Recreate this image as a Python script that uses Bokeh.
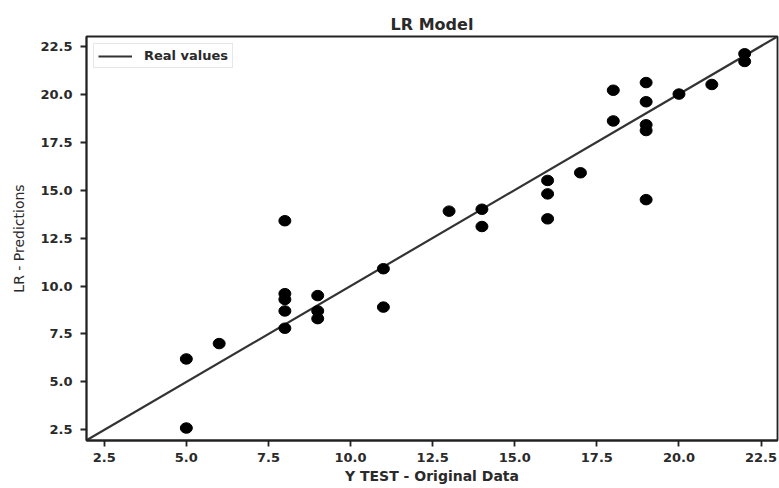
from bokeh.plotting import figure
from bokeh.embed import file_html
from bokeh.resources import INLINE
from bokeh.models import ColumnDataSource, SingleIntervalTicker, NumeralTickFormatter, Range1d, Legend, LegendItem

y_test = [5, 5, 6, 8, 8, 8, 8, 8, 9, 9, 9, 11, 11, 13, 14, 14, 16, 16, 16, 17,
          18, 18, 19, 19, 19, 19, 19, 20, 21, 22, 22]
y_pred = [6.2, 2.6, 7.0, 13.4, 9.6, 9.3, 8.7, 7.8, 9.5, 8.7, 8.3, 10.9, 8.9, 13.9, 14.0, 13.1,
          15.5, 14.8, 13.5, 15.9, 20.2, 18.6, 20.6, 19.6, 18.4, 18.1, 14.5, 20.0, 20.5, 22.1, 21.7]
ref_line = [1.96, 23.0]

p = figure(width=779, height=488, output_backend="svg", toolbar_location=None,
           title="LR Model", x_range=Range1d(1.96, 23.0), y_range=Range1d(1.95, 23.0),
           min_border_left=86, min_border_right=2, min_border_top=36, min_border_bottom=48)

p.title.align = "center"
p.title.text_font = "DejaVu Sans"
p.title.text_font_size = "16px"
p.title.text_font_style = "bold"
p.title.text_color = "#2a2a2a"
p.title.standoff = 6

p.xgrid.visible = False
p.ygrid.visible = False
p.outline_line_color = "#222222"
p.outline_line_width = 1.8

for ax in (p.xaxis[0], p.yaxis[0]):
    ax.ticker = SingleIntervalTicker(interval=2.5)
    ax.formatter = NumeralTickFormatter(format="0.0")
    ax.minor_tick_line_color = None
    ax.major_tick_out = 6
    ax.major_tick_in = 0
    ax.major_tick_line_width = 1.8
    ax.major_tick_line_color = "#222222"
    ax.axis_line_color = "#222222"
    ax.axis_line_width = 1.8
    ax.major_label_text_font = "DejaVu Sans"
    ax.major_label_text_font_size = "13px"
    ax.major_label_text_font_style = "bold"
    ax.major_label_text_color = "#2a2a2a"
    ax.axis_label_text_font = "DejaVu Sans"
    ax.axis_label_text_font_style = "bold"
    ax.axis_label_text_color = "#2a2a2a"

p.xaxis.axis_label = "Y TEST - Original Data"
p.yaxis.axis_label = "LR - Predictions"
p.xaxis.axis_label_text_font_size = "14px"
p.yaxis.axis_label_text_font_size = "14px"
p.yaxis.axis_label_text_font_style = "normal"
p.xaxis.axis_label_standoff = 3
p.yaxis.axis_label_standoff = 10
p.xaxis.major_label_standoff = 6
p.yaxis.major_label_standoff = 8

src = ColumnDataSource(dict(x=y_test, y=y_pred))
line = p.line(ref_line, ref_line, line_color="#333333", line_width=2.2)
p.ellipse("x", "y", width=12, height=10.5, width_units="screen", height_units="screen",
          fill_color="black", line_color="black", source=src)

legend = Legend(items=[LegendItem(label="Real values", renderers=[line])], location="top_left")
legend.label_text_font = "DejaVu Sans"
legend.label_text_font_size = "13px"
legend.label_text_font_style = "bold"
legend.label_text_color = "#2a2a2a"
legend.border_line_color = "#d0d0d0"
legend.border_line_width = 1
legend.margin = 7
legend.padding = 4
legend.glyph_width = 34
legend.glyph_height = 14
legend.label_height = 14
legend.label_standoff = 12
p.add_layout(legend)

open("out.html", "w").write(file_html(p, INLINE))
